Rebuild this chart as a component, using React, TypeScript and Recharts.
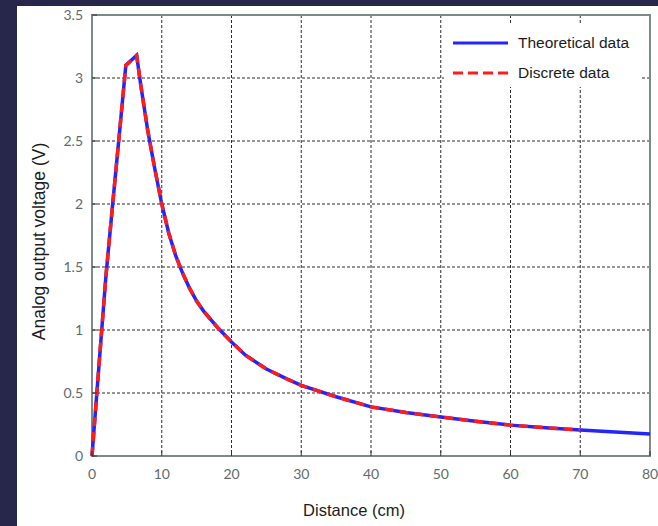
import React from 'react';
import { LineChart, Line, XAxis, YAxis, CartesianGrid, ReferenceArea, Legend, Label } from 'recharts';

const distances = [0, 1, 2, 3, 4, 4.85, 6.4, 7, 8, 9, 10, 11, 12, 13, 14, 15, 16, 18, 20, 22, 25, 28, 30, 35, 40, 45, 50, 55, 60, 65, 70, 75, 80];
const theoretical = [0, 0.72, 1.43, 2.02, 2.6, 3.1, 3.18, 2.94, 2.58, 2.28, 2.0, 1.77, 1.59, 1.45, 1.33, 1.23, 1.15, 1.02, 0.905, 0.8, 0.69, 0.61, 0.56, 0.47, 0.39, 0.345, 0.31, 0.275, 0.245, 0.225, 0.206, 0.19, 0.175];
const discrete = [0, 0.72, 1.43, 2.02, 2.6, 3.1, 3.18, 2.94, 2.58, 2.28, 2.0, 1.77, 1.59, 1.45, 1.33, 1.23, 1.15, 1.02, 0.905, 0.8, 0.69, 0.61, 0.56, 0.47, 0.39, 0.345, 0.31, 0.275, 0.245, 0.225, 0.206];
const xTicks = [0, 10, 20, 30, 40, 50, 60, 70, 80];
const yTicks = [0, 0.5, 1, 1.5, 2, 2.5, 3, 3.5];
const seriesOrder = ['theoretical', 'discrete'];

const BLUE = '#2424ff';
const RED = '#ff1c1c';
const NAVY = '#27264b';
const TICK_COLOR = '#5f6b6b';
const BOX_COLOR = '#7c8a8a';

const data = distances.map((d, i) => ({
  d,
  theoretical: theoretical[i],
  discrete: i < discrete.length ? discrete[i] : null,
}));

const tickStyle = { fontFamily: 'Lato, "Open Sans", sans-serif', fontSize: 14, fill: TICK_COLOR };

const LegendContent = (props: any) => {
  const payload = [...(props.payload || [])].sort(
    (a: any, b: any) => seriesOrder.indexOf(a.dataKey) - seriesOrder.indexOf(b.dataKey)
  );
  return (
    <svg width={196} height={62} style={{ display: 'block', overflow: 'visible', background: '#ffffff' }}>
      <rect x={0} y={0} width={196} height={62} fill="#ffffff" />
      {payload.map((p: any, i: number) => {
        const y = 18 + i * 30;
        const dashed = p.dataKey === 'discrete';
        return (
          <g key={i}>
            <line x1={9} y1={y} x2={64} y2={y} stroke={dashed ? RED : BLUE} strokeWidth={3} strokeDasharray={dashed ? '10 5' : undefined} />
            <text x={74} y={y} dy="0.35em" fontSize={15.5} fontFamily='"Liberation Sans", Arial, sans-serif' fill="#1c1c1c">
              {p.value}
            </text>
          </g>
        );
      })}
    </svg>
  );
};

export default function App() {
  return (
    <div style={{ position: 'absolute', left: 0, top: 0, width: 658, height: 526, background: NAVY, overflow: 'hidden' }}>
      <div style={{ position: 'absolute', left: 17, top: 6, width: 641, height: 520, background: '#ffffff' }} />
      <div style={{ position: 'absolute', left: 0, top: 0 }}>
        <LineChart width={658} height={526} data={data} margin={{ top: 15, right: 8, bottom: 40, left: 32 }}>
          <CartesianGrid stroke="#2a2a2a" strokeDasharray="3 2" strokeWidth={1} />
          <XAxis
            dataKey="d"
            type="number"
            domain={[0, 80]}
            ticks={xTicks}
            interval={0}
            height={30}
            axisLine={false}
            tickSize={-5}
            tickMargin={18}
            tickLine={{ stroke: '#333' }}
            tick={tickStyle}
          >
            <Label
              content={(p: any) => {
                const vb = p.viewBox || { x: 92, y: 456, width: 558, height: 30 };
                const cx = vb.x + vb.width / 2 - 17;
                return (
                  <text x={cx} y={516} textAnchor="middle" fontSize={16.5} fontFamily='"Liberation Sans", Arial, sans-serif' fill="#1c1c1c">
                    Distance (cm)
                  </text>
                );
              }}
            />
          </XAxis>
          <XAxis xAxisId="top" orientation="top" type="number" domain={[0, 80]} ticks={xTicks} interval={0} height={0} axisLine={false} tickSize={-5} tickMargin={0} tickLine={{ stroke: '#333' }} tickFormatter={() => ''} />
          <YAxis
            type="number"
            domain={[0, 3.5]}
            ticks={yTicks}
            interval={0}
            width={60}
            axisLine={false}
            tickSize={-5}
            tickMargin={14}
            tickLine={{ stroke: '#333' }}
            tick={tickStyle}
          >
            <Label
              content={(p: any) => {
                const vb = p.viewBox || { x: 32, y: 15, width: 60, height: 441 };
                const x = vb.x + 7;
                const y = vb.y + vb.height / 2 + 6;
                return (
                  <text x={x} y={y} transform={`rotate(-90, ${x}, ${y})`} textAnchor="middle" dominantBaseline="central" fontSize={17.5} fontFamily='"Liberation Sans", Arial, sans-serif' fill="#1c1c1c">
                    Analog output voltage (V)
                  </text>
                );
              }}
            />
          </YAxis>
          <YAxis yAxisId="right" orientation="right" type="number" domain={[0, 3.5]} ticks={yTicks} interval={0} width={0} axisLine={false} tickSize={-5} tickMargin={0} tickLine={{ stroke: '#333' }} tickFormatter={() => ''} />
          <ReferenceArea x1={0} x2={80} y1={0} y2={3.5} fill="none" stroke={BOX_COLOR} strokeWidth={2} ifOverflow="visible" />
          <Line type="linear" dataKey="theoretical" name="Theoretical data" stroke={BLUE} strokeWidth={3.5} dot={false} isAnimationActive={false} />
          <Line type="linear" dataKey="discrete" name="Discrete data" stroke={RED} strokeWidth={3.5} strokeDasharray="9 6" dot={false} isAnimationActive={false} connectNulls={false} />
          <Legend
            layout="vertical"
            align="center"
            verticalAlign="middle"
            content={LegendContent}
            wrapperStyle={{ position: 'absolute', left: 444, top: 25, width: 196, height: 62 }}
          />
        </LineChart>
      </div>
    </div>
  );
}
